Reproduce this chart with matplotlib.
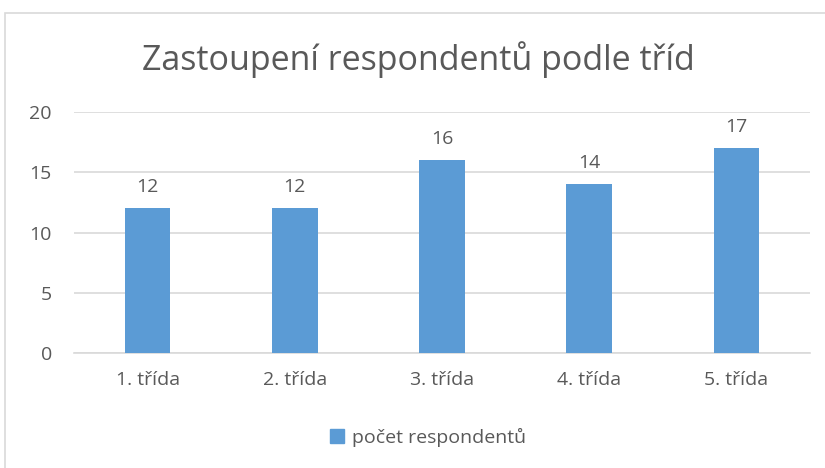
import matplotlib.pyplot as plt
from matplotlib.patches import Rectangle, Patch

categories = ["1. třída", "2. třída", "3. třída", "4. třída", "5. třída"]
counts = [12, 12, 16, 14, 17]
series_name = "počet respondentů"
title = "Zastoupení respondentů podle tříd"

bar_color = "#5B9BD5"
text_color = "#595959"
grid_color = "#D9D9D9"

plt.rcParams["font.family"] = ["Open Sans", "DejaVu Sans"]

fig = plt.figure(figsize=(8.25, 4.68), dpi=100)
ax = fig.add_axes([74 / 825, 1 - 353 / 468, 736 / 825, 241 / 468])

# chart frame, cut off at right and bottom like the screenshot
fig.patches.append(Rectangle((5 / 825, -0.1), 1.2, 1.1 - 13 / 468,
                             transform=fig.transFigure, fill=False,
                             edgecolor=grid_color, linewidth=1.2))

x = range(len(categories))
bars = ax.bar(x, counts, width=0.31, color=bar_color, zorder=3)
for b, v in zip(bars, counts):
    ax.annotate(str(v), (b.get_x() + b.get_width() / 2, v),
                xytext=(0, 9), textcoords="offset points",
                ha="center", va="bottom", fontsize=14, color=text_color)

ax.set_xlim(-0.5, len(categories) - 0.5)
ax.set_ylim(0, 20)
ax.set_yticks([0, 5, 10, 15, 20])
ax.set_xticks(list(x))
ax.set_xticklabels(categories)
ax.tick_params(length=0, labelsize=14, labelcolor=text_color)
ax.tick_params(axis="y", pad=16)
ax.tick_params(axis="x", pad=13)
ax.yaxis.grid(True, color=grid_color, linewidth=1.2, zorder=0)
for s in ["left", "right", "top"]:
    ax.spines[s].set_visible(False)
ax.spines["bottom"].set_color(grid_color)
ax.spines["bottom"].set_linewidth(1.2)

fig.text(418 / 825, 1 - 60 / 468, title, ha="center", va="center",
         fontsize=24.5, color=text_color)

fig.legend(handles=[Patch(color=bar_color, label=series_name)],
           loc="center", bbox_to_anchor=(428 / 825, 1 - 437 / 468),
           frameon=False, fontsize=14, labelcolor=text_color,
           handlelength=0.7, handleheight=0.7, handletextpad=0.4)

fig.savefig("out.png", dpi=100)
